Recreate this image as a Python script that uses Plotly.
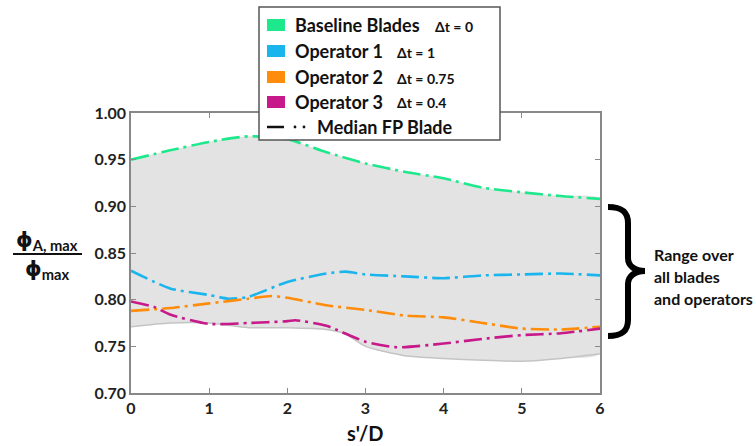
import plotly.graph_objects as go

# ---------------- data ----------------
baseline_x = [0, 0.5, 1, 1.5, 2, 2.5, 3, 3.5, 4, 4.5, 5, 5.5, 6]
baseline_y = [0.950, 0.960, 0.969, 0.975, 0.972, 0.958, 0.946, 0.937, 0.930, 0.920, 0.915, 0.911, 0.908]

op1_x = [0, 0.5, 1, 1.25, 1.5, 2, 2.5, 2.75, 3, 3.5, 4, 4.5, 5, 5.5, 6]
op1_y = [0.831, 0.812, 0.805, 0.801, 0.803, 0.819, 0.828, 0.830, 0.827, 0.825, 0.823, 0.826, 0.827, 0.828, 0.826]

op2_x = [0, 0.5, 1, 1.5, 1.8, 2, 2.5, 3, 3.5, 4, 4.5, 5, 5.5, 6]
op2_y = [0.788, 0.791, 0.796, 0.801, 0.804, 0.802, 0.794, 0.789, 0.783, 0.781, 0.775, 0.769, 0.768, 0.771]

op3_x = [0, 0.3, 0.5, 1, 1.5, 2, 2.1, 2.5, 3, 3.4, 4, 4.5, 5, 5.5, 6]
op3_y = [0.798, 0.792, 0.784, 0.774, 0.775, 0.777, 0.778, 0.772, 0.755, 0.749, 0.753, 0.758, 0.762, 0.764, 0.769]

band_low_x = [0, 0.5, 1, 1.5, 2, 2.5, 2.75, 3, 3.5, 4, 4.5, 5, 5.5, 6]
band_low_y = [0.771, 0.775, 0.775, 0.770, 0.770, 0.768, 0.763, 0.750, 0.740, 0.737, 0.735, 0.734, 0.737, 0.742]

x_ticks = [0, 1, 2, 3, 4, 5, 6]
y_ticks = [0.70, 0.75, 0.80, 0.85, 0.90, 0.95, 1.00]

legend_names = ["Baseline Blades", "Operator 1", "Operator 2", "Operator 3"]
legend_dt = ["Δt = 0", "Δt = 1", "Δt = 0.75", "Δt = 0.4"]
colors = ["#1EE88C", "#1BB5EE", "#FF8C0A", "#C8198A"]
median_label = "Median FP Blade"
range_text = ["Range over", "all blades", "and operators"]
x_title = "s'/D"

# ---------------- layout helpers (pixel -> paper) ----------------
W, H = 756, 446
L, R, T, B = 131, 156, 113, 53
PW, PH = W - L - R, H - T - B


def px(x):
    return (x - L) / PW


def py(y):
    return (H - B - y) / PH


FONT = "Lato, 'Noto Sans', sans-serif"
DASH = "18px,5px,3px,5px"
PHI = "<span style=\"font-family:'DejaVu Sans'\">ϕ</span>"

fig = go.Figure()

# range band
fig.add_trace(go.Scatter(
    x=band_low_x + baseline_x[::-1],
    y=band_low_y + baseline_y[::-1],
    fill="toself", fillcolor="#E3E3E3", mode="none",
    line=dict(shape="spline", smoothing=0.6),
    showlegend=False, hoverinfo="skip"))
fig.add_trace(go.Scatter(
    x=band_low_x, y=band_low_y, mode="lines",
    line=dict(color="#C4C4C4", width=1.5, shape="spline", smoothing=0.6),
    showlegend=False, hoverinfo="skip"))

series = [(baseline_x, baseline_y), (op1_x, op1_y), (op2_x, op2_y), (op3_x, op3_y)]
for (sx, sy), c, n in zip(series, colors, legend_names):
    fig.add_trace(go.Scatter(
        x=sx, y=sy, mode="lines", name=n,
        line=dict(color=c, width=2.6, dash=DASH, shape="spline", smoothing=0.6),
        showlegend=False))

shapes = []
annotations = []

# legend box
shapes.append(dict(type="rect", xref="paper", yref="paper",
                   x0=px(259), x1=px(500), y0=py(140), y1=py(7),
                   fillcolor="white", line=dict(color="#555555", width=1.5), layer="above"))
rows = [25, 51, 77, 102]
dt_x = [433, 395, 395, 395]
for yy, c, n, dt, dx in zip(rows, colors, legend_names, legend_dt, dt_x):
    shapes.append(dict(type="rect", xref="paper", yref="paper",
                       x0=px(267), x1=px(285), y0=py(yy + 6), y1=py(yy - 6),
                       fillcolor=c, line=dict(width=0), layer="above"))
    annotations.append(dict(x=px(293), y=py(yy), xref="paper", yref="paper",
                            text="<b>%s</b>" % n, showarrow=False,
                            xanchor="left", yanchor="middle",
                            font=dict(family=FONT, size=18, color="#111111")))
    annotations.append(dict(x=px(dx), y=py(yy + 1), xref="paper", yref="paper",
                            text="<b>%s</b>" % dt, showarrow=False,
                            xanchor="left", yanchor="middle",
                            font=dict(family=FONT, size=14, color="#111111")))
# median sample
shapes.append(dict(type="line", xref="paper", yref="paper",
                   x0=px(267), x1=px(284), y0=py(127), y1=py(127),
                   line=dict(color="#111111", width=2.5), layer="above"))
for dxp in (295, 304):
    shapes.append(dict(type="circle", xref="paper", yref="paper",
                       x0=px(dxp - 1.4), x1=px(dxp + 1.4), y0=py(127 + 1.4), y1=py(127 - 1.4),
                       fillcolor="#111111", line=dict(width=0), layer="above"))
annotations.append(dict(x=px(315), y=py(127), xref="paper", yref="paper",
                        text="<b>%s</b>" % median_label, showarrow=False,
                        xanchor="left", yanchor="middle",
                        font=dict(family=FONT, size=18, color="#111111")))

# y-axis title as a fraction
shapes.append(dict(type="line", xref="paper", yref="paper",
                   x0=px(13), x1=px(82), y0=py(254), y1=py(254),
                   line=dict(color="#111111", width=2)))
annotations.append(dict(x=px(47), y=py(241), xref="paper", yref="paper",
                        text="<b>%s<sub>A, max</sub></b>" % PHI, showarrow=False,
                        xanchor="center", yanchor="middle",
                        font=dict(family=FONT, size=21, color="#111111")))
annotations.append(dict(x=px(47), y=py(270), xref="paper", yref="paper",
                        text="<b>%s<sub>max</sub></b>" % PHI, showarrow=False,
                        xanchor="center", yanchor="middle",
                        font=dict(family=FONT, size=21, color="#111111")))

# x-axis title
annotations.append(dict(x=px(365), y=py(433), xref="paper", yref="paper",
                        text="<b>%s</b>" % x_title, showarrow=False,
                        xanchor="center", yanchor="middle",
                        font=dict(family=FONT, size=20, color="#111111")))

# curly brace
pts = [("M", [(608, 207)]),
       ("C", [(622, 207), (628, 212), (628, 223)]),
       ("L", [(628, 258)]),
       ("C", [(628, 266), (635, 271), (645, 271)]),
       ("C", [(635, 271), (628, 276), (628, 284)]),
       ("L", [(628, 320)]),
       ("C", [(628, 331), (622, 336), (608, 336)])]
path = " ".join(cmd + " " + " ".join("%.5f,%.5f" % (px(a), py(b)) for a, b in p) for cmd, p in pts)
shapes.append(dict(type="path", xref="paper", yref="paper", path=path,
                   line=dict(color="#000000", width=6)))
for yy, t in zip([254, 276, 298], range_text):
    annotations.append(dict(x=px(652), y=py(yy), xref="paper", yref="paper",
                            text="<b>%s</b>" % t, showarrow=False,
                            xanchor="left", yanchor="middle",
                            font=dict(family=FONT, size=16, color="#111111")))

axis_common = dict(showline=True, linecolor="#888888", linewidth=1.5, mirror="ticks",
                   ticks="inside", ticklen=5, tickwidth=1.2, tickcolor="#888888",
                   showgrid=False, zeroline=False, automargin=False,
                   tickfont=dict(family=FONT, size=16, color="#222222"))

fig.update_layout(
    width=W, height=H,
    margin=dict(l=L, r=R, t=T, b=B, pad=0, autoexpand=False),
    paper_bgcolor="white", plot_bgcolor="white",
    showlegend=False,
    shapes=shapes, annotations=annotations,
    xaxis=dict(range=[0, 6], tickvals=x_ticks, ticktext=["<b>%d</b>" % v for v in x_ticks],
               **axis_common),
    yaxis=dict(range=[0.70, 1.00], tickvals=y_ticks, ticktext=["<b>%.2f</b>" % v for v in y_ticks],
               **axis_common),
)

fig.write_html("out.html")
